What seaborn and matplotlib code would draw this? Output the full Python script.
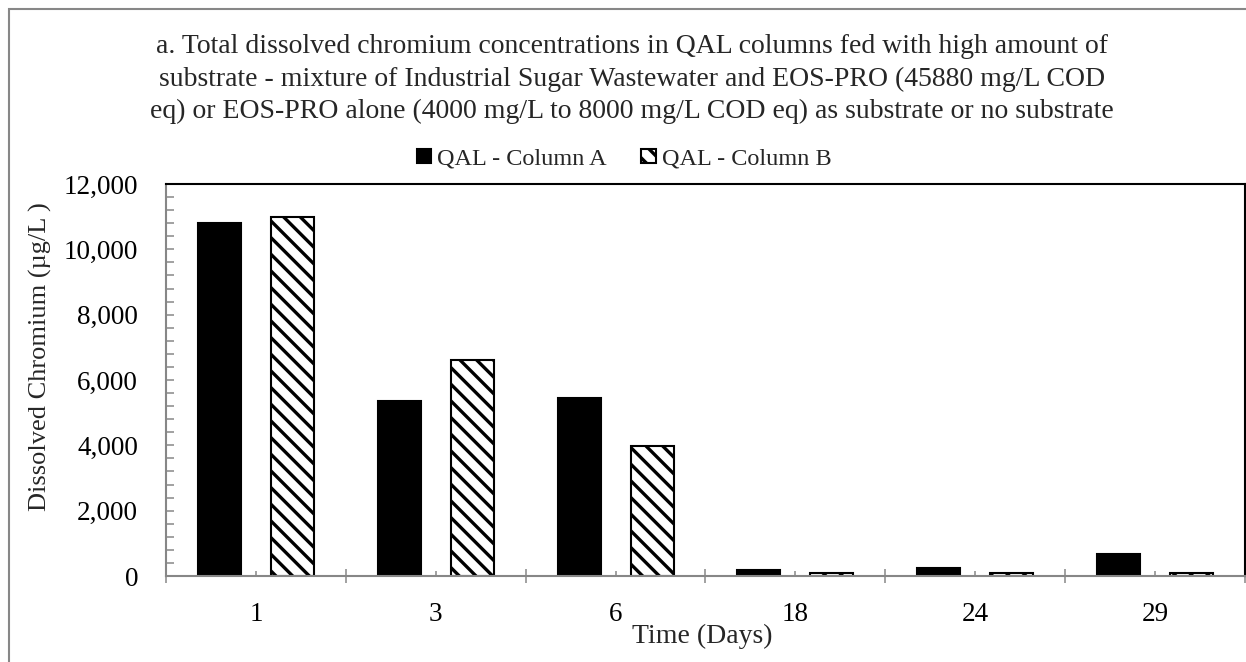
import matplotlib
matplotlib.use("Agg")
import matplotlib.pyplot as plt
import matplotlib.patches as mpatches
from matplotlib.ticker import MultipleLocator, FixedLocator, FuncFormatter
import seaborn as sns
import pandas as pd

days = ["1", "3", "6", "18", "24", "29"]
column_a = [10800, 5350, 5450, 190, 235, 670]
column_b = [11000, 6600, 3970, 80, 80, 80]
series_names = ["QAL - Column A", "QAL - Column B"]

title = ("a. Total dissolved chromium concentrations in QAL columns fed with high amount of\n"
         "substrate - mixture of Industrial Sugar Wastewater and EOS-PRO (45880 mg/L COD\n"
         "eq) or EOS-PRO alone (4000 mg/L to 8000 mg/L COD eq) as substrate or no substrate")
ylabel = "Dissolved Chromium (µg/L )"
xlabel = "Time (Days)"

df = pd.DataFrame({
    "Day": days * 2,
    "Value": column_a + column_b,
    "Series": [series_names[0]] * len(days) + [series_names[1]] * len(days),
})

sns.set_style("white")
plt.rcParams["font.family"] = ["Liberation Serif", "DejaVu Serif"]
plt.rcParams["hatch.linewidth"] = 2.4

W, H = 1246, 662
fig = plt.figure(figsize=(W / 100, H / 100), dpi=100)
ax = fig.add_axes([166 / W, 1 - 576 / H, (1245 - 166) / W, (576 - 184) / H])

gray = "#878787"
sns.barplot(data=df, x="Day", y="Value", hue="Series", order=days,
            hue_order=series_names, palette=["black", "white"],
            width=0.812, gap=0.41, edgecolor="black", linewidth=1.5,
            ax=ax, legend=False)

for bar in ax.containers[1]:
    bar.set_hatch("\\\\")
    bar.set_edgecolor("black")

ax.set_xlim(-0.5, 5.5)
ax.set_ylim(0, 12000)
ax.yaxis.set_major_locator(MultipleLocator(2000))
ax.yaxis.set_minor_locator(MultipleLocator(400))
ax.yaxis.set_major_formatter(FuncFormatter(lambda v, p: f"{int(v):,}"))
ax.xaxis.set_minor_locator(FixedLocator([i - 0.5 for i in range(len(days) + 1)]))

ax.tick_params(axis="y", which="both", left=True, direction="in", length=6, width=1.1,
               color=gray, labelsize=19.5, pad=20, labelcolor="black")
ax.tick_params(axis="x", which="major", bottom=True, direction="in", length=3.6, width=1.1,
               color=gray, labelsize=19.5, pad=19, labelcolor="black")
ax.tick_params(axis="x", which="minor", bottom=True, direction="inout", length=10, width=1.1,
               color=gray)

for side in ["left", "bottom"]:
    ax.spines[side].set_color(gray)
    ax.spines[side].set_linewidth(1.5)
for side in ["top", "right"]:
    ax.spines[side].set_color("black")
    ax.spines[side].set_linewidth(1.5)

ax.set_ylabel(ylabel, fontsize=19, va="center")
ax.yaxis.set_label_coords((40 - 166) / (1245 - 166), (576 - 357) / (576 - 184))
ax.set_xlabel(xlabel, fontsize=20, va="center")
ax.xaxis.set_label_coords((702.5 - 166) / (1245 - 166), (576 - 636) / (576 - 184))

fig.text(632 / W, 1 - 79 / H, title, ha="center", va="center", fontsize=20,
         linespacing=1.37, multialignment="center")

handles = [ax.containers[0].patches[0], ax.containers[1].patches[0]]
fig.legend(handles, series_names, loc="center", bbox_to_anchor=(624 / W, 1 - 159 / H),
           ncol=2, frameon=False, fontsize=17.5, handlelength=0.6, handleheight=0.5,
           handletextpad=0.25, columnspacing=1.4, borderpad=0)

border = mpatches.Rectangle((9 / W, -0.05), 1.2, 1.05 - 9 / H, transform=fig.transFigure,
                            fill=False, edgecolor=gray, linewidth=1.5, clip_on=False)
fig.add_artist(border)

fig.savefig("out.png", dpi=100)
